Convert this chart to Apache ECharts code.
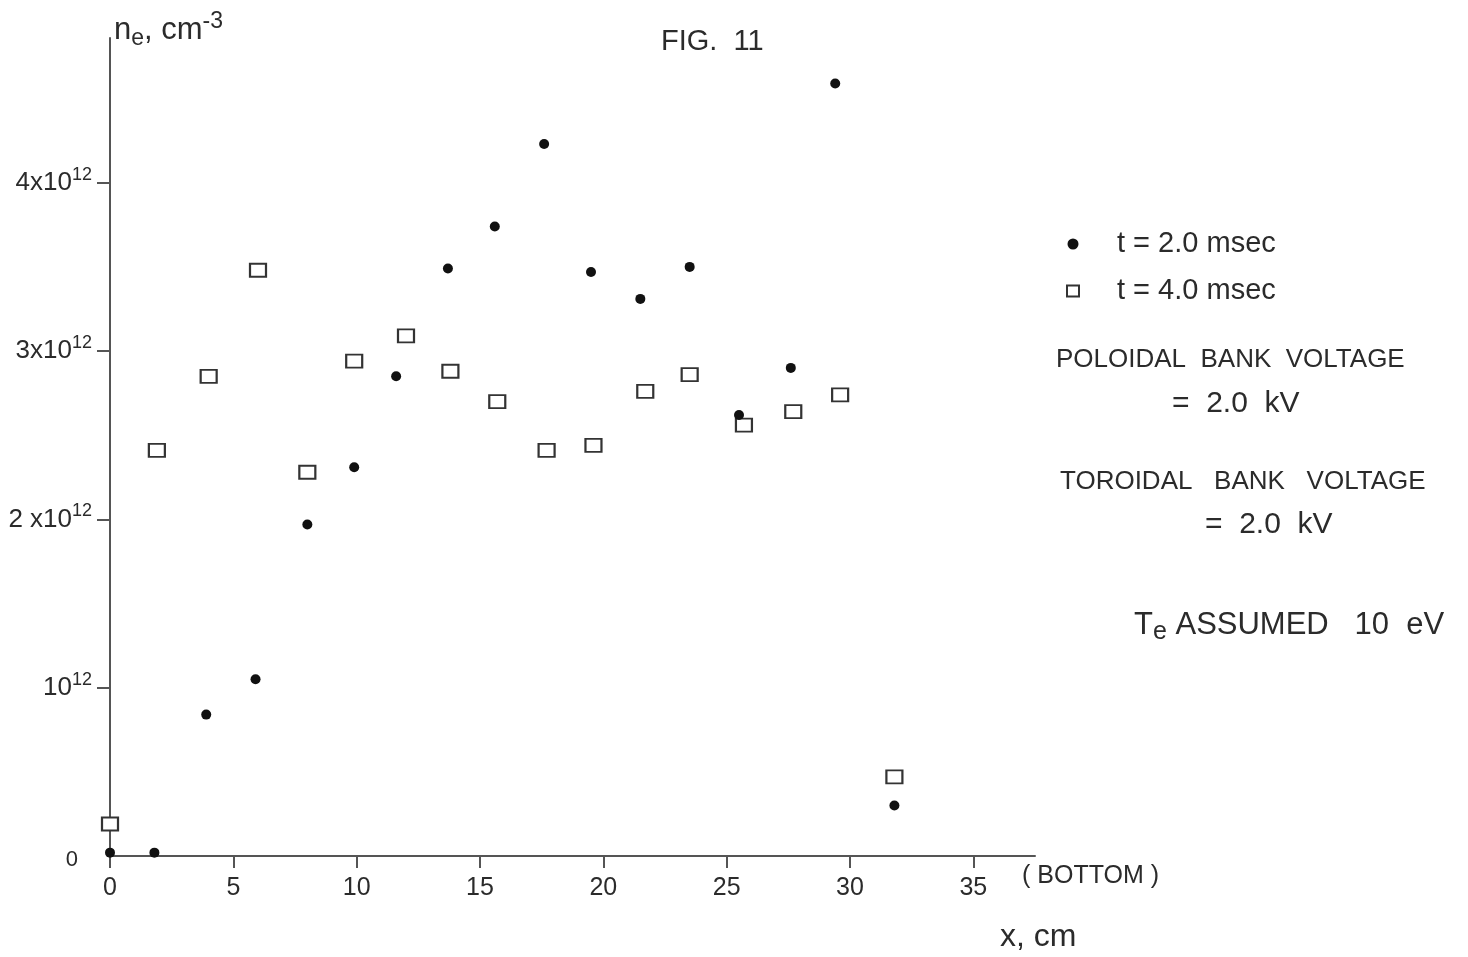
<!DOCTYPE html>
<html>
<head>
<meta charset="utf-8">
<title>FIG. 11</title>
<script src="https://cdn.jsdelivr.net/npm/echarts@6/dist/echarts.min.js"></script>
<style>
    html, body { margin: 0; padding: 0; background: #fff; }
    #chart { width: 1468px; height: 957px; }
</style>
</head>
<body>
<div id="chart"></div>
<script>
    // t = 2.0 msec (dots): x in cm, ne in units of 10^12 cm^-3
    var xDot = [0, 1.8, 3.9, 5.9, 8.0, 9.9, 11.6, 13.7, 15.6, 17.6, 19.5, 21.5, 23.5, 25.5, 27.6, 29.4, 31.8];
    var yDot = [0.02, 0.02, 0.84, 1.05, 1.97, 2.31, 2.85, 3.49, 3.74, 4.23, 3.47, 3.31, 3.50, 2.62, 2.90, 4.59, 0.30];
    // t = 4.0 msec (squares)
    var xSq = [0, 1.9, 4.0, 6.0, 8.0, 9.9, 12.0, 13.8, 15.7, 17.7, 19.6, 21.7, 23.5, 25.7, 27.7, 29.6, 31.8];
    var ySq = [0.19, 2.41, 2.85, 3.48, 2.28, 2.94, 3.09, 2.88, 2.70, 2.41, 2.44, 2.76, 2.86, 2.56, 2.64, 2.74, 0.47];

    var seriesNames = ['t = 2.0 msec', 't = 4.0 msec'];
    var xTicks = [0, 5, 10, 15, 20, 25, 30, 35];
    var yTicks = [0, 1, 2, 3, 4];
    var yTickLabels = ['0', '10', '2 x10', '3x10', '4x10'];

    var font = 'Liberation Sans, Arial, sans-serif';
    var ink = '#2b2b2b';
    var axisColor = '#555';

    function pairs(xs, ys) {
        var out = [];
        for (var i = 0; i < xs.length; i++) {
            out.push([xs[i], ys[i]]);
        }
        return out;
    }

    // plain text helper for the notes on the right
    function note(text, x, y, size) {
        return {
            type: 'text',
            x: x,
            y: y,
            style: {
                text: text,
                fontFamily: font,
                fontSize: size,
                fill: ink,
                verticalAlign: 'middle'
            }
        };
    }

    var myChart = echarts.init(document.getElementById('chart'));
    var _option = {
        backgroundColor: '#fff',
        animation: false,
        title: {
            text: 'FIG.  11',
            left: 656,
            top: 22,
            textStyle: { color: ink, fontFamily: font, fontSize: 29, fontWeight: 'normal' }
        },
        legend: {
            orient: 'vertical',
            left: 1061,
            top: 224,
            itemWidth: 12,
            itemHeight: 11,
            itemGap: 17,
            selectedMode: false,
            textStyle: {
                color: ink,
                fontFamily: font,
                fontSize: 29,
                lineHeight: 30,
                padding: [0, 0, 0, 33]
            },
            data: [
                { name: seriesNames[0], icon: 'circle', itemStyle: { color: '#111' } },
                { name: seriesNames[1], icon: 'rect', itemStyle: { color: '#fff', borderColor: '#333', borderWidth: 2 } }
            ]
        },
        grid: {
            left: 110,
            right: 433,
            top: 38,
            bottom: 101
        },
        xAxis: {
            type: 'value',
            min: 0,
            max: 37.5,
            splitLine: { show: false },
            axisLine: { lineStyle: { color: axisColor, width: 2 } },
            axisTick: {
                customValues: xTicks,
                length: 12,
                lineStyle: { color: axisColor, width: 2 }
            },
            axisLabel: {
                customValues: xTicks,
                margin: 20,
                color: ink,
                fontFamily: font,
                fontSize: 25
            }
        },
        yAxis: {
            type: 'value',
            min: 0,
            max: 4.86,
            splitLine: { show: false },
            axisLine: { lineStyle: { color: axisColor, width: 2 } },
            axisTick: {
                customValues: [1, 2, 3, 4],
                length: 13,
                lineStyle: { color: axisColor, width: 2 }
            },
            axisLabel: {
                customValues: yTicks,
                margin: 18,
                color: ink,
                fontFamily: font,
                formatter: function (v) {
                    var i = yTicks.indexOf(v);
                    if (i === 0) {
                        return '{z|' + yTickLabels[0] + '}';
                    }
                    return '{b|' + yTickLabels[i] + '}{s|12}';
                },
                rich: {
                    b: { fontSize: 26, fontFamily: font, color: ink, lineHeight: 34 },
                    s: { fontSize: 18, fontFamily: font, color: ink, verticalAlign: 'top', lineHeight: 34 },
                    z: { fontSize: 22, fontFamily: font, color: ink, padding: [8, 14, 0, 0] }
                }
            }
        },
        graphic: [
            {
                type: 'text',
                x: 114,
                y: 30,
                style: {
                    text: '{n|n}{e|e}{n|, cm}{s|-3}',
                    fill: ink,
                    verticalAlign: 'middle',
                    rich: {
                        n: { fontSize: 31, fontFamily: font, color: ink, lineHeight: 40 },
                        e: { fontSize: 23, fontFamily: font, color: ink, verticalAlign: 'bottom', lineHeight: 40 },
                        s: { fontSize: 23, fontFamily: font, color: ink, verticalAlign: 'top', lineHeight: 40 }
                    }
                }
            },
            note('POLOIDAL  BANK  VOLTAGE', 1056, 360, 26),
            note('=  2.0  kV', 1172, 404, 30),
            note('TOROIDAL   BANK   VOLTAGE', 1060, 482, 26),
            note('=  2.0  kV', 1205, 525, 30),
            {
                type: 'text',
                x: 1134,
                y: 625,
                style: {
                    text: '{t|T}{e|e}{t| ASSUMED   10  eV}',
                    fill: ink,
                    verticalAlign: 'middle',
                    rich: {
                        t: { fontSize: 31, fontFamily: font, color: ink, lineHeight: 40 },
                        e: { fontSize: 25, fontFamily: font, color: ink, verticalAlign: 'bottom', lineHeight: 40 }
                    }
                }
            },
            note('( BOTTOM )', 1022, 876, 25),
            note('x, cm', 1000, 937, 32)
        ],
        series: [
            {
                name: seriesNames[1],
                type: 'scatter',
                symbol: 'rect',
                symbolSize: [16, 13],
                z: 2,
                itemStyle: { color: '#fff', borderColor: '#333', borderWidth: 2, opacity: 1 },
                data: pairs(xSq, ySq)
            },
            {
                name: seriesNames[0],
                type: 'scatter',
                symbol: 'circle',
                symbolSize: 10,
                z: 3,
                itemStyle: { color: '#111', opacity: 1 },
                data: pairs(xDot, yDot)
            }
        ]
    };
    myChart.setOption(_option);
</script>
</body>
</html>
